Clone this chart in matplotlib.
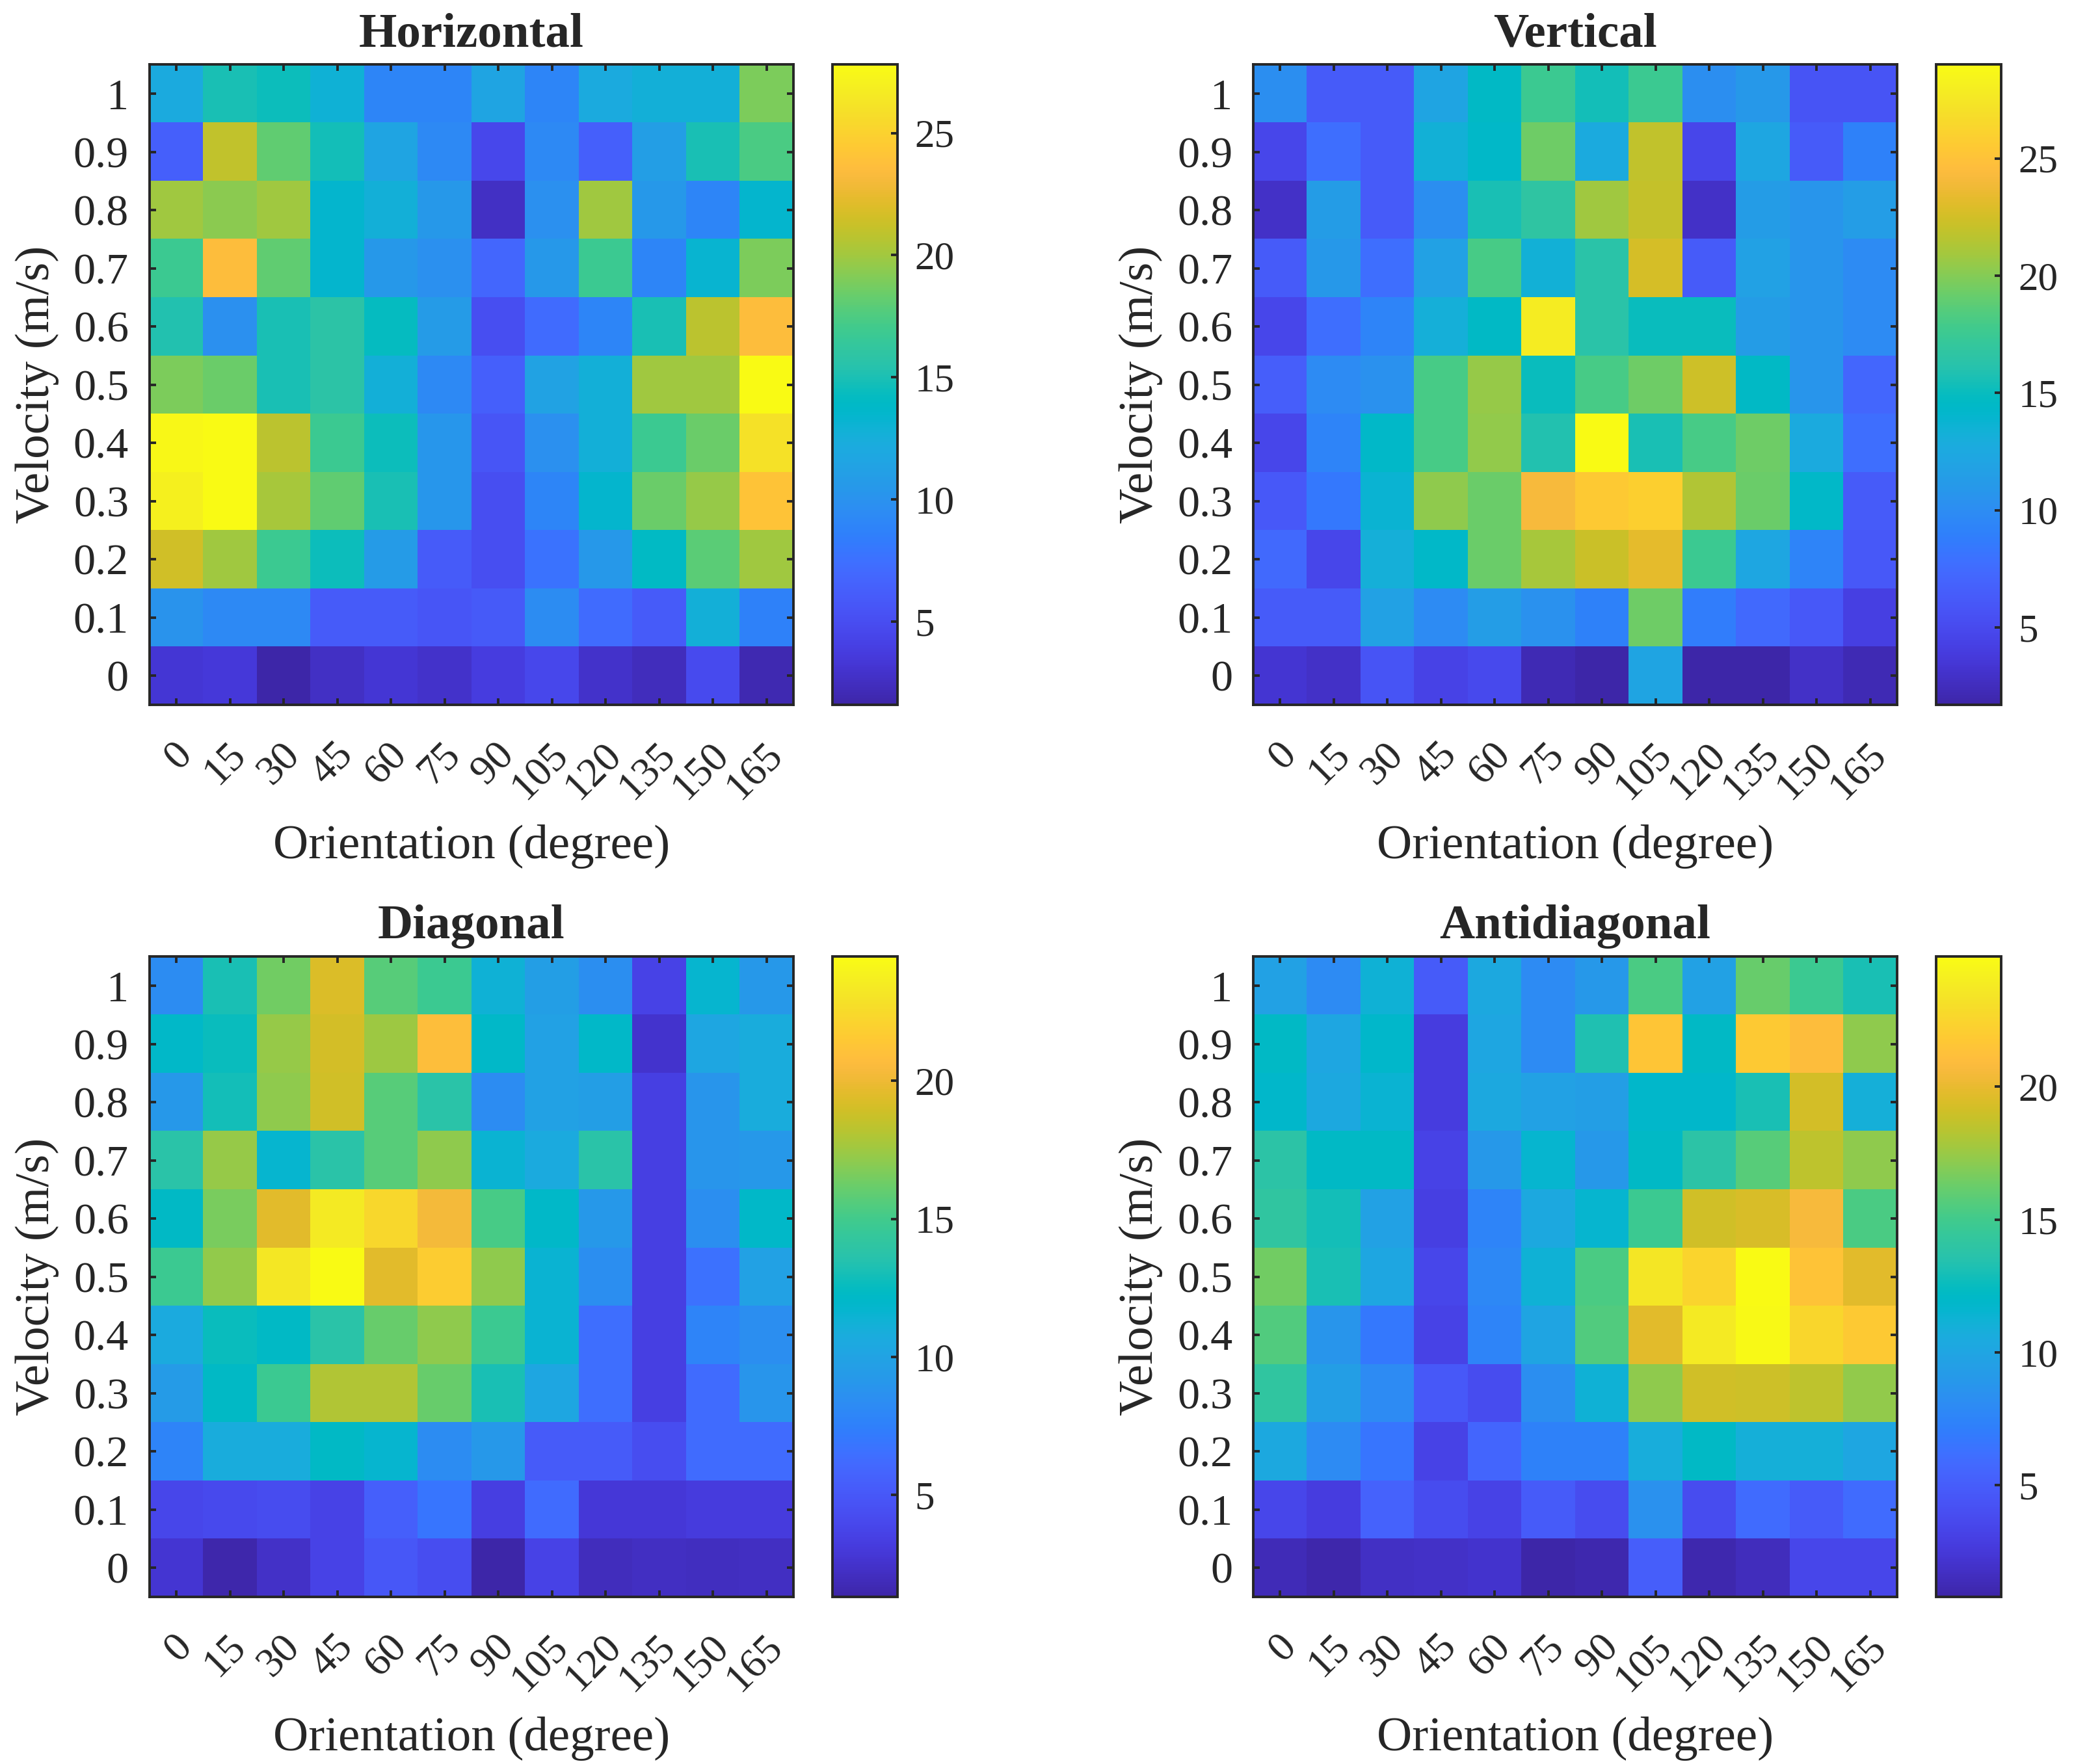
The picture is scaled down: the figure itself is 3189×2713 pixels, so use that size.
import numpy as np
import matplotlib
matplotlib.use('Agg')
import matplotlib.pyplot as plt
from matplotlib.colors import LinearSegmentedColormap
from matplotlib.transforms import ScaledTranslation

# tick labels
orientation = [0, 15, 30, 45, 60, 75, 90, 105, 120, 135, 150, 165]
velocity = ['1', '0.9', '0.8', '0.7', '0.6', '0.5', '0.4', '0.3', '0.2', '0.1', '0']

# rows go from velocity 1 (top) down to 0 (bottom)
horizontal = [
    [12.1, 15.0, 14.5, 12.9, 9.0, 9.0, 11.6, 9.0, 12.1, 12.7, 12.7, 18.9],
    [6.4, 21.0, 18.1, 14.8, 11.6, 9.3, 4.6, 9.3, 6.4, 11.1, 15.0, 17.4],
    [20.0, 19.4, 20.0, 13.4, 12.7, 10.6, 2.7, 9.8, 20.0, 10.6, 9.0, 13.4],
    [16.8, 23.6, 18.1, 13.4, 10.6, 9.8, 6.9, 10.6, 16.8, 9.0, 13.2, 18.9],
    [15.3, 9.8, 15.0, 15.8, 14.2, 10.8, 5.1, 7.2, 9.0, 15.0, 20.8, 23.6],
    [18.9, 18.4, 15.0, 15.8, 12.7, 9.3, 6.4, 11.4, 12.7, 20.0, 20.0, 27.8],
    [27.5, 27.8, 20.8, 16.8, 14.5, 10.3, 5.6, 9.8, 12.7, 16.8, 18.4, 26.0],
    [27.0, 27.8, 20.2, 18.1, 15.0, 10.3, 5.1, 9.0, 13.4, 18.4, 19.7, 24.1],
    [21.5, 20.0, 16.8, 14.5, 10.8, 6.1, 5.1, 7.7, 10.6, 14.0, 17.9, 20.0],
    [10.1, 9.3, 9.3, 6.1, 6.1, 5.6, 5.9, 9.5, 7.2, 6.1, 12.7, 8.7],
    [3.3, 3.5, 1.6, 2.7, 3.3, 2.9, 3.8, 4.6, 2.9, 2.4, 4.8, 2.0],
]

vertical = [
    [10.2, 6.3, 6.3, 12.1, 14.5, 17.5, 15.4, 17.5, 10.2, 11.0, 5.8, 5.8],
    [4.7, 7.7, 6.3, 13.4, 14.3, 19.4, 12.6, 21.9, 4.7, 12.3, 6.3, 9.1],
    [2.9, 11.3, 6.3, 10.2, 15.6, 16.7, 20.8, 22.0, 2.9, 11.3, 10.7, 11.5],
    [6.3, 11.0, 7.7, 11.8, 18.1, 13.4, 16.4, 22.7, 6.3, 11.8, 10.7, 9.9],
    [4.7, 7.7, 9.3, 13.2, 14.5, 27.9, 16.4, 15.1, 15.1, 11.3, 10.7, 9.9],
    [6.6, 9.9, 10.4, 18.1, 20.5, 15.1, 18.1, 19.4, 22.3, 14.5, 10.7, 7.2],
    [4.7, 9.3, 14.3, 18.1, 20.4, 15.9, 29.0, 15.6, 18.1, 19.4, 12.6, 7.7],
    [6.1, 8.5, 13.7, 20.3, 19.2, 24.1, 25.5, 26.0, 21.4, 19.2, 14.3, 6.3],
    [7.4, 4.7, 13.2, 14.3, 19.2, 21.1, 22.2, 23.3, 17.5, 12.3, 9.3, 6.1],
    [6.3, 6.3, 11.8, 9.9, 11.5, 10.4, 9.1, 19.4, 8.8, 7.4, 6.1, 4.2],
    [3.3, 2.9, 5.8, 4.4, 5.0, 2.2, 1.7, 12.1, 1.8, 1.8, 2.9, 2.2],
]

diagonal = [
    [8.3, 13.1, 16.4, 19.3, 15.7, 14.8, 11.3, 9.7, 8.5, 3.6, 11.7, 9.2],
    [12.0, 12.7, 17.3, 19.0, 17.5, 20.8, 12.0, 9.9, 12.0, 2.5, 10.3, 10.8],
    [9.2, 12.9, 17.1, 18.9, 15.7, 13.8, 8.3, 9.9, 9.7, 3.4, 9.0, 10.8],
    [13.8, 17.3, 11.7, 13.8, 15.7, 17.1, 11.5, 10.6, 13.8, 3.4, 9.0, 9.2],
    [12.2, 16.6, 19.6, 23.5, 22.4, 20.3, 15.2, 12.0, 9.2, 3.4, 8.5, 12.0],
    [14.8, 17.2, 23.3, 24.5, 19.6, 21.7, 17.1, 11.5, 8.5, 3.4, 6.6, 9.9],
    [10.6, 12.7, 12.2, 13.8, 16.1, 17.1, 14.8, 11.5, 6.4, 3.4, 7.8, 8.5],
    [9.4, 12.2, 14.8, 18.0, 18.0, 16.1, 13.1, 10.3, 6.4, 3.4, 6.2, 9.0],
    [7.8, 10.8, 10.8, 12.2, 11.7, 8.3, 9.2, 5.2, 5.2, 4.3, 6.2, 6.2],
    [3.9, 4.1, 4.2, 3.6, 5.5, 6.9, 3.3, 6.2, 2.9, 2.9, 3.2, 3.2],
    [2.7, 1.4, 2.3, 3.6, 5.0, 4.3, 1.3, 3.6, 2.0, 2.2, 2.1, 2.2],
]

antidiagonal = [
    [9.7, 8.0, 11.2, 4.9, 10.4, 8.0, 9.0, 15.3, 9.7, 16.2, 14.8, 13.1],
    [12.1, 10.2, 11.9, 2.8, 10.2, 8.0, 13.3, 21.6, 12.1, 21.8, 21.0, 17.2],
    [11.9, 10.4, 11.4, 2.8, 10.4, 9.7, 9.5, 11.9, 11.9, 13.1, 19.2, 10.9],
    [13.8, 12.1, 12.1, 3.2, 9.0, 11.6, 9.0, 12.1, 13.8, 15.7, 18.5, 17.2],
    [14.1, 12.9, 9.7, 3.0, 7.5, 10.4, 11.6, 14.8, 19.1, 19.4, 20.6, 15.3],
    [16.5, 13.1, 10.2, 3.5, 7.8, 11.2, 15.3, 23.5, 22.5, 24.9, 21.5, 19.8],
    [15.5, 8.8, 6.8, 3.2, 7.5, 10.0, 15.5, 19.8, 23.8, 24.8, 22.6, 21.8],
    [14.1, 9.5, 8.0, 4.7, 3.9, 8.3, 11.2, 17.2, 19.1, 19.0, 18.5, 17.3],
    [10.4, 8.0, 6.6, 3.2, 5.6, 7.3, 7.3, 10.7, 12.1, 10.9, 10.9, 10.2],
    [3.5, 2.8, 5.4, 3.9, 3.2, 4.9, 3.9, 8.5, 3.9, 5.9, 4.9, 5.9],
    [1.3, 0.9, 1.8, 1.9, 2.1, 0.8, 1.0, 5.1, 1.0, 1.5, 3.5, 3.5],
]

# MATLAB parula (64 steps)
parula_rgb = [
    (0.2422, 0.1504, 0.6603), (0.2504, 0.1650, 0.7076), (0.2578, 0.1818, 0.7511),
    (0.2647, 0.1978, 0.7952), (0.2706, 0.2147, 0.8364), (0.2751, 0.2342, 0.8710),
    (0.2783, 0.2559, 0.8991), (0.2803, 0.2782, 0.9221), (0.2813, 0.3006, 0.9414),
    (0.2810, 0.3228, 0.9579), (0.2795, 0.3447, 0.9717), (0.2760, 0.3667, 0.9829),
    (0.2699, 0.3892, 0.9906), (0.2602, 0.4123, 0.9952), (0.2440, 0.4358, 0.9988),
    (0.2206, 0.4603, 0.9973), (0.1963, 0.4847, 0.9892), (0.1834, 0.5074, 0.9798),
    (0.1786, 0.5289, 0.9682), (0.1764, 0.5499, 0.9520), (0.1687, 0.5703, 0.9359),
    (0.1540, 0.5902, 0.9218), (0.1460, 0.6091, 0.9079), (0.1380, 0.6276, 0.8973),
    (0.1248, 0.6459, 0.8883), (0.1113, 0.6635, 0.8763), (0.0952, 0.6798, 0.8598),
    (0.0689, 0.6948, 0.8394), (0.0297, 0.7082, 0.8163), (0.0036, 0.7203, 0.7917),
    (0.0067, 0.7312, 0.7660), (0.0433, 0.7411, 0.7394), (0.0964, 0.7500, 0.7120),
    (0.1408, 0.7584, 0.6842), (0.1717, 0.7670, 0.6554), (0.1938, 0.7758, 0.6251),
    (0.2161, 0.7843, 0.5923), (0.2470, 0.7918, 0.5567), (0.2906, 0.7973, 0.5188),
    (0.3406, 0.8008, 0.4789), (0.3909, 0.8029, 0.4354), (0.4456, 0.8024, 0.3909),
    (0.5044, 0.7993, 0.3480), (0.5616, 0.7942, 0.3045), (0.6174, 0.7876, 0.2612),
    (0.6720, 0.7793, 0.2227), (0.7242, 0.7698, 0.1910), (0.7738, 0.7598, 0.1646),
    (0.8203, 0.7498, 0.1535), (0.8634, 0.7406, 0.1596), (0.9035, 0.7330, 0.1774),
    (0.9393, 0.7288, 0.2100), (0.9728, 0.7298, 0.2394), (0.9956, 0.7434, 0.2371),
    (0.9970, 0.7659, 0.2199), (0.9952, 0.7893, 0.2028), (0.9892, 0.8136, 0.1885),
    (0.9786, 0.8386, 0.1766), (0.9676, 0.8639, 0.1643), (0.9610, 0.8890, 0.1537),
    (0.9597, 0.9135, 0.1423), (0.9628, 0.9373, 0.1265), (0.9691, 0.9606, 0.1064),
    (0.9769, 0.9839, 0.0805),
]
parula = LinearSegmentedColormap.from_list('parula', parula_rgb, N=256)

plt.rcParams['font.family'] = ['Liberation Serif', 'DejaVu Serif']
ink = '#262626'

fig = plt.figure(figsize=(15.945, 13.565), dpi=200)

panels = [
    ('Horizontal', horizontal, 0.0721, 0.6004, [5, 10, 15, 20, 25]),
    ('Vertical', vertical, 0.6043, 0.6004, [5, 10, 15, 20, 25]),
    ('Diagonal', diagonal, 0.0721, 0.0947, [5, 10, 15, 20]),
    ('Antidiagonal', antidiagonal, 0.6043, 0.0947, [5, 10, 15, 20]),
]

shift = ScaledTranslation(36 / 200, 0, fig.dpi_scale_trans)

for title, data, x0, y0, cticks in panels:
    ax = fig.add_axes([x0, y0, 0.3104, 0.363])
    im = ax.imshow(np.array(data), cmap=parula, aspect='auto',
                   interpolation='nearest')

    ax.set_xticks(range(len(orientation)))
    ax.set_xticklabels([str(o) for o in orientation], rotation=45,
                       ha='right', va='top', fontsize=23)
    ax.set_yticks(range(len(velocity)))
    ax.set_yticklabels(velocity, fontsize=24.5)
    ax.tick_params(direction='in', top=True, right=True, length=3.6,
                   width=1.4, colors=ink)
    ax.tick_params(axis='x', pad=17)
    ax.tick_params(axis='y', pad=11.5)
    for lab in ax.get_xticklabels():
        lab.set_transform(lab.get_transform() + shift)
    for s in ax.spines.values():
        s.set_linewidth(1.4)
        s.set_color(ink)

    ax.set_title(title, fontsize=27, fontweight='bold', color=ink, pad=10)
    ax.set_xlabel('Orientation (degree)', fontsize=27, color=ink, labelpad=10)
    ax.set_ylabel('Velocity (m/s)', fontsize=27, color=ink, labelpad=8)

    cax = fig.add_axes([x0 + 0.3293, y0, 0.0314, 0.363])
    cb = fig.colorbar(im, cax=cax, ticks=cticks)
    cb.outline.set_linewidth(1.4)
    cb.outline.set_edgecolor(ink)
    cax.tick_params(direction='in', length=3.6, width=1.4, labelsize=22,
                    colors=ink, pad=9.5)

fig.savefig('out.png', dpi=200, facecolor='white')
